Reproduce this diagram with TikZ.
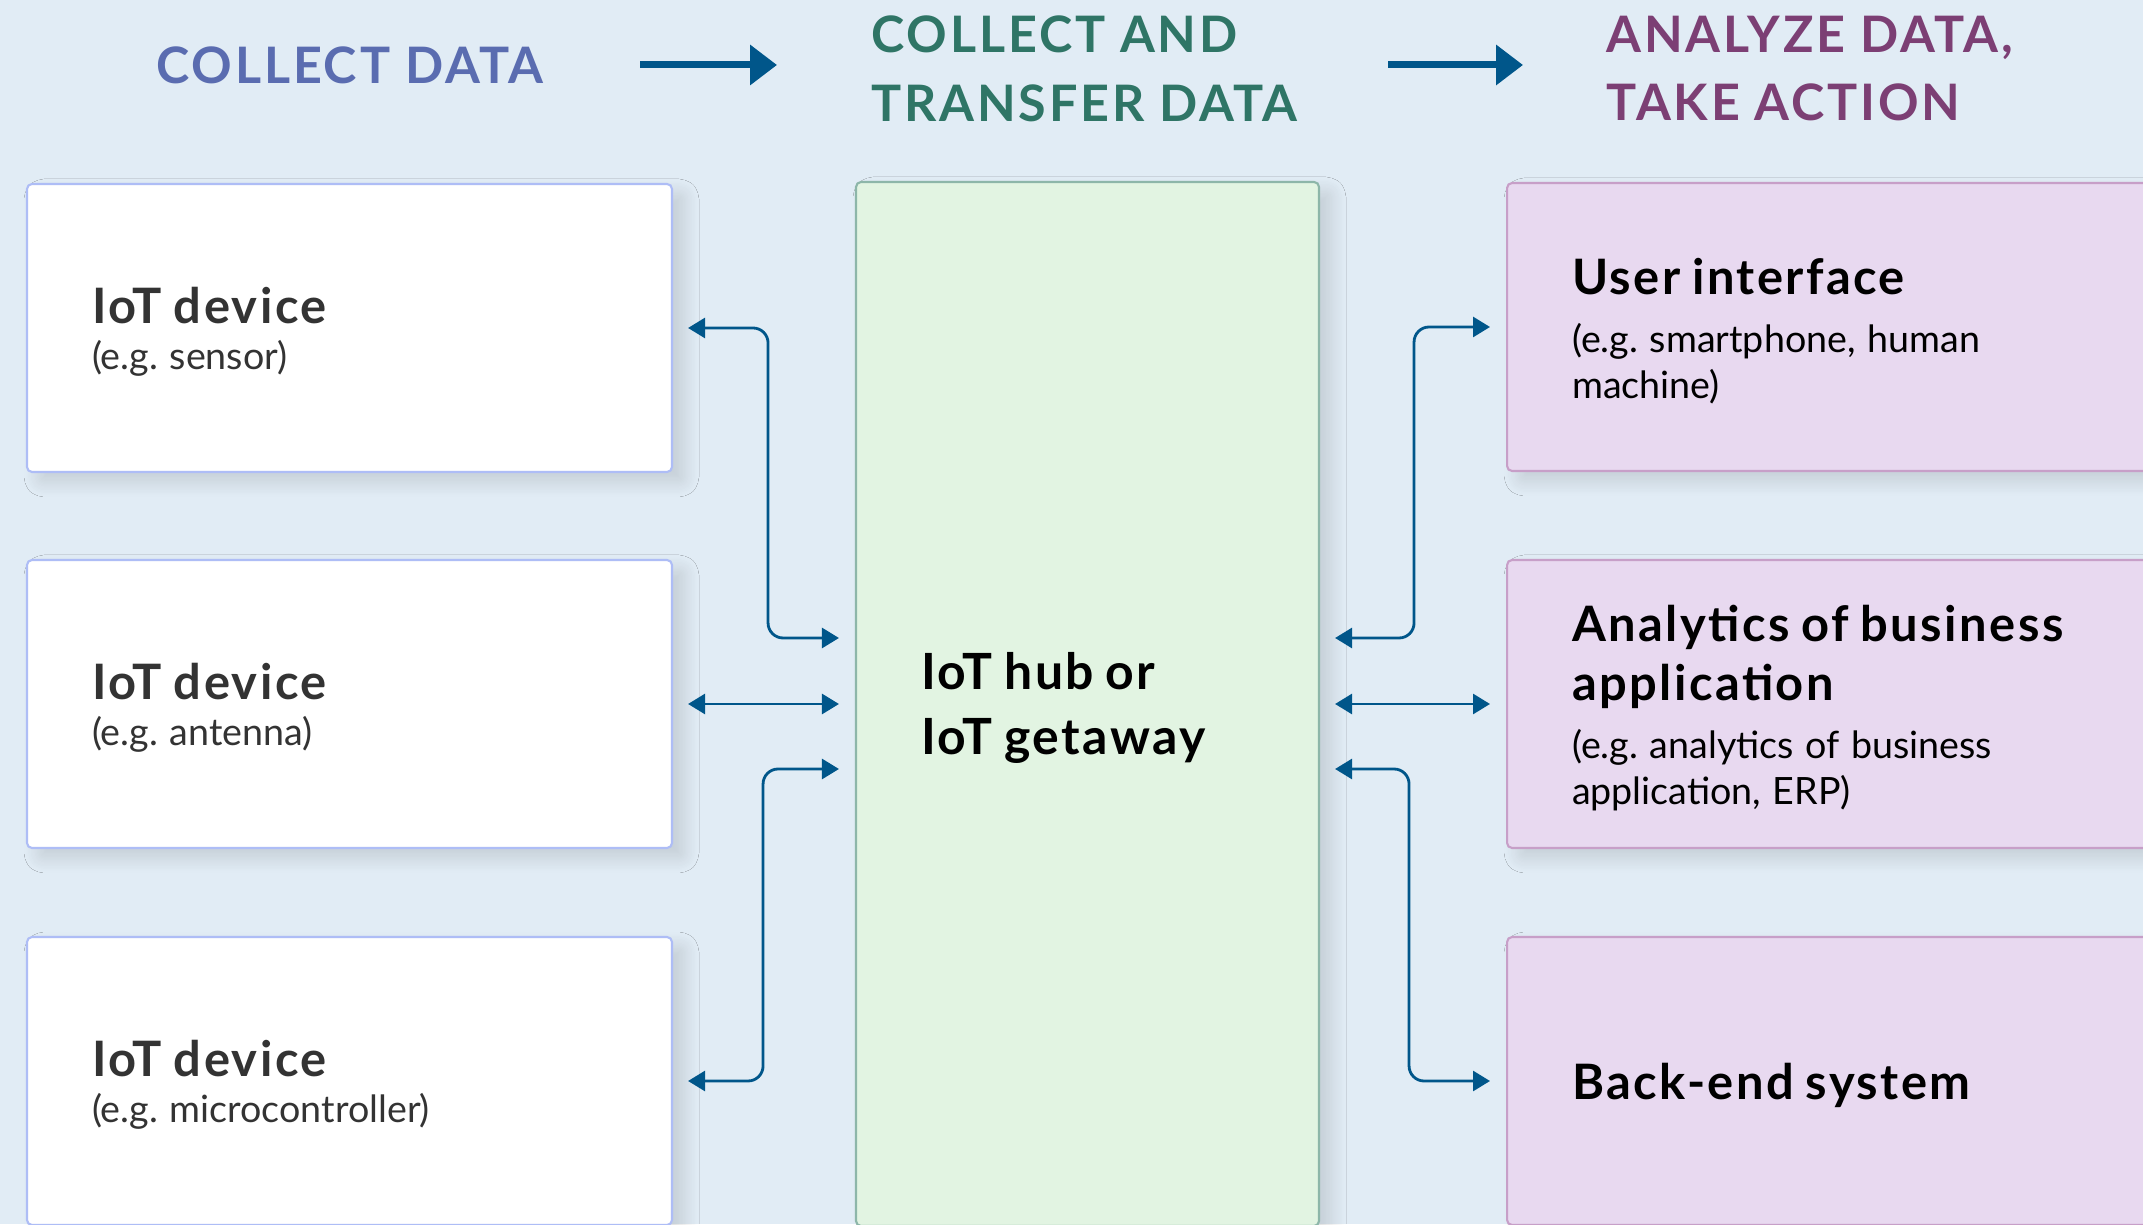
\documentclass[tikz,border=0pt]{standalone}
\usepackage{fontspec}
\setmainfont{Lato}
\usetikzlibrary{arrows.meta,shadows.blur}

\definecolor{bgblue}{HTML}{E1ECF5}
\definecolor{devline}{HTML}{AEBDF6}
\definecolor{hubfill}{HTML}{E2F4E2}
\definecolor{hubline}{HTML}{8DB6A9}
\definecolor{appfill}{HTML}{E8D9F0}
\definecolor{appline}{HTML}{C79FC8}
\definecolor{linkblue}{HTML}{00568A}
\definecolor{hdrone}{HTML}{5A6CB0}
\definecolor{hdrtwo}{HTML}{2F7566}
\definecolor{hdrthree}{HTML}{7C3F74}
\definecolor{greytext}{HTML}{333333}

\newcommand{\boxtitle}{\fontsize{13.9}{16.8}\selectfont\bfseries\addfontfeatures{LetterSpace=5}}
\newcommand{\hubtitle}{\fontsize{14.2}{18.4}\selectfont\bfseries\addfontfeatures{LetterSpace=5}}
\newcommand{\boxnote}{\fontsize{10.7}{13}\selectfont}
\newcommand{\cardpad}{\rule{0pt}{12.6pt}}
\setlength{\parindent}{0pt}
\frenchspacing

\begin{document}
\begin{tikzpicture}[
			every node/.style={inner sep=0pt},
			hdr/.style={font=\fontsize{14.3}{19.6}\selectfont\bfseries\addfontfeatures{LetterSpace=5.5}, align=left},
			card/.style={rectangle, rounded corners=0.05cm, line width=0.6pt, minimum height=2.88cm,
				inner xsep=0.65cm, align=left,
				blur shadow={shadow xshift=0.12cm, shadow yshift=-0.1cm, shadow blur radius=0.15cm,
					shadow blur steps=12, shadow opacity=13}},
			dev/.style={card, draw=devline, fill=white, text=greytext, text width=5.15cm},
			app/.style={card, draw=appline, fill=appfill, text=black, text width=6cm, anchor=west},
			hubbox/.style={card, draw=hubline, fill=hubfill, text=black, minimum height=10.44cm, text width=3.33cm},
			link/.style={draw=linkblue, line width=0.8pt, rounded corners=0.15cm,
				{Triangle[length=0.17cm,width=0.2cm]}-{Triangle[length=0.17cm,width=0.2cm]},
				shorten <=0.15cm, shorten >=0.16cm},
			flow/.style={draw=linkblue, line width=2pt, -{Triangle[length=0.27cm,width=0.39cm]}}
			]
			\useasboundingbox (0,0) rectangle (21.43,12.24);
			\clip (0,0) rectangle (21.43,12.24);
			\fill[bgblue] (0,0) rectangle (21.43,12.24);

			% headers
			\node[hdr, text=hdrone] (hdrA) at (3.50,11.59) {COLLECT DATA};
			\node[hdr, text=hdrtwo, anchor=west] (hdrB) at (8.71,11.555) {COLLECT AND\\TRANSFER DATA};
			\node[hdr, text=hdrthree, anchor=west] (hdrC) at (16.06,11.555) {ANALYZE DATA,\\TAKE ACTION};
			\draw[flow, shorten <=0.96cm, shorten >=0.94cm] (hdrA.east) -- (hdrA.east -| hdrB.west);
			\draw[flow, shorten <=0.9cm, shorten >=0.83cm] (hdrB.east |- hdrA.east) -- (hdrA.east -| hdrC.west);

			% devices
			\node[dev] (dev1) at (3.495,8.96) {{\boxtitle\cardpad IoT device\par}{\boxnote (e.g. sensor)\par}};
			\node[dev] (dev2) at (3.495,5.20) {{\boxtitle\cardpad IoT device\par}{\boxnote (e.g. antenna)\par}};
			\node[dev] (dev3) at (3.495,1.43) {{\boxtitle\cardpad IoT device\par}{\boxnote (e.g. microcontroller)\par}};

			% hub
			\node[hubbox] (hub) at (10.875,5.20) {{\hubtitle\rule{0pt}{12.8pt}IoT hub or\\IoT getaway\par}};

			% applications
			\node[app] (app1) at (15.06,8.97) {{\boxtitle\cardpad User interface\par}\vspace{3.5pt}{\boxnote (e.g. smartphone, human\\machine)\par}};
			\node[app] (app2) at (15.06,5.20) {{\boxtitle\cardpad Analytics of business\\application\par}\vspace{3.5pt}{\boxnote (e.g. analytics of business\\application, ERP)\par}};
			\node[app] (app3) at (15.06,1.43) {{\boxtitle\cardpad Back-end system\par}};

			\draw[link] (dev1.east) -- ++(0.95,0) |- ([yshift=0.66cm]hub.west);
			\draw[link] (dev2.east) -- (hub.west);
			\draw[link] (dev3.east) -- ++(0.90,0) |- ([yshift=-0.65cm]hub.west);
			\draw[link] ([yshift=0.66cm]hub.east) -- ++(0.94,0) |- (app1.west);
			\draw[link] (hub.east) -- (app2.west);
			\draw[link] ([yshift=-0.65cm]hub.east) -- ++(0.89,0) |- (app3.west);
		\end{tikzpicture}
\end{document}
